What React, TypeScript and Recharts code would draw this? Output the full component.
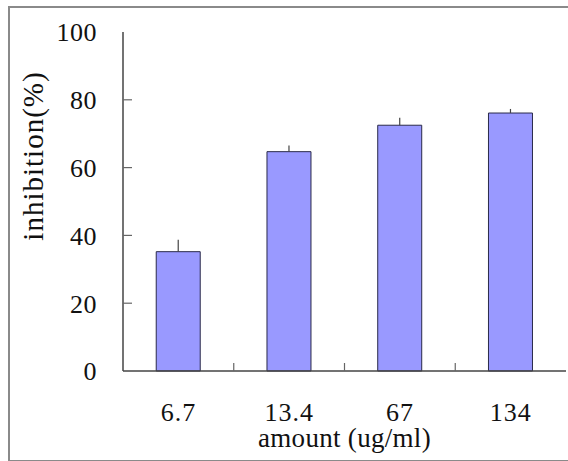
import { BarChart, Bar, XAxis, YAxis, ErrorBar } from "recharts";

// inhibition by dose, with upper error bars
const amounts = ["6.7", "13.4", "67", "134"];
const inhibition = [35.2, 64.7, 72.5, 76.1];
const errors = [3.5, 1.8, 2.2, 1.2];
const yTicks = [0, 20, 40, 60, 80, 100];

const data = amounts.map((amount, i) => ({
  amount,
  inhibition: inhibition[i],
  err: [0, errors[i]],
}));

const W = 568;
const H = 461;
const MARGIN = { top: 32, right: 2, bottom: 0, left: 0 };
const Y_AXIS_W = 123;
const X_AXIS_H = 90;
const PLOT_W = W - MARGIN.left - MARGIN.right - Y_AXIS_W;

const FONT = "'Liberation Serif', 'Times New Roman', serif";

function YTick(props: any) {
  const { x, y, payload } = props;
  return (
    <g>
      {payload.value > 0 && payload.value < 100 && (
        <line x1={x} x2={x + 9} y1={y} y2={y} stroke="#666" strokeWidth={1.2} />
      )}
      <text
        x={x - 26}
        y={y}
        dy="0.36em"
        textAnchor="end"
        fontFamily={FONT}
        fontSize={26}
        letterSpacing={0.5}
        fill="#111"
      >
        {payload.value}
      </text>
    </g>
  );
}

function XTick(props: any) {
  const { x, y, payload, index } = props;
  const half = PLOT_W / amounts.length / 2;
  return (
    <g>
      {index < amounts.length - 1 && (
        <line x1={x + half} x2={x + half} y1={y} y2={y - 8} stroke="#666" strokeWidth={1.2} />
      )}
      <text
        x={x}
        y={y + 50}
        textAnchor="middle"
        fontFamily={FONT}
        fontSize={26}
        letterSpacing={1}
        fill="#111"
      >
        {payload.value}
      </text>
    </g>
  );
}

export default function App() {
  return (
    <div style={{ position: "absolute", left: 0, top: 0, width: W, height: H, background: "#fff", overflow: "hidden" }}>
      <div
        style={{
          position: "absolute",
          left: 8,
          top: 6,
          width: 580,
          height: 452,
          borderTop: "2px solid #8a8a8a",
          borderLeft: "2px solid #8a8a8a",
          borderBottom: "2px solid #8a8a8a",
        }}
      />
      <div style={{ position: "absolute", left: 0, top: 0 }}>
        <BarChart width={W} height={H} data={data} margin={MARGIN} barCategoryGap="30%">
          <XAxis
            xAxisId="top"
            orientation="top"
            dataKey="amount"
            height={0}
            tick={false}
            tickLine={false}
            axisLine={{ stroke: "#999", strokeWidth: 1.5 }}
          />
          <YAxis
            yAxisId="right"
            orientation="right"
            width={0}
            domain={[0, 100]}
            tick={false}
            tickLine={false}
            axisLine={{ stroke: "#999", strokeWidth: 1.5 }}
          />
          <XAxis
            dataKey="amount"
            height={X_AXIS_H}
            tickLine={false}
            tickSize={0}
            tickMargin={0}
            interval={0}
            tick={<XTick />}
            axisLine={{ stroke: "#444", strokeWidth: 1.5 }}
            label={(props: any) => (
              <text
                x={(props.viewBox?.x ?? Y_AXIS_W) + PLOT_W / 2}
                y={447}
                textAnchor="middle"
                fontFamily={FONT}
                fontSize={27}
                letterSpacing={0.3}
                fill="#111"
              >
                amount (ug/ml)
              </text>
            )}
          />
          <YAxis
            width={Y_AXIS_W}
            domain={[0, 100]}
            ticks={yTicks}
            interval={0}
            tickLine={false}
            tickSize={0}
            tickMargin={0}
            tick={<YTick />}
            axisLine={{ stroke: "#444", strokeWidth: 1.5 }}
            label={() => (
              <text
                x={43}
                y={156}
                transform="rotate(-90 43 156)"
                textAnchor="middle"
                fontFamily={FONT}
                fontSize={29}
                letterSpacing={1}
                fill="#111"
              >
                inhibition(%)
              </text>
            )}
          />
          <Bar
            dataKey="inhibition"
            fill="#9999ff"
            stroke="#2a2a4a"
            strokeWidth={1}
            isAnimationActive={false}
          >
            <ErrorBar dataKey="err" width={0} stroke="#444" strokeWidth={1.2} direction="y" />
          </Bar>
        </BarChart>
      </div>
    </div>
  );
}
